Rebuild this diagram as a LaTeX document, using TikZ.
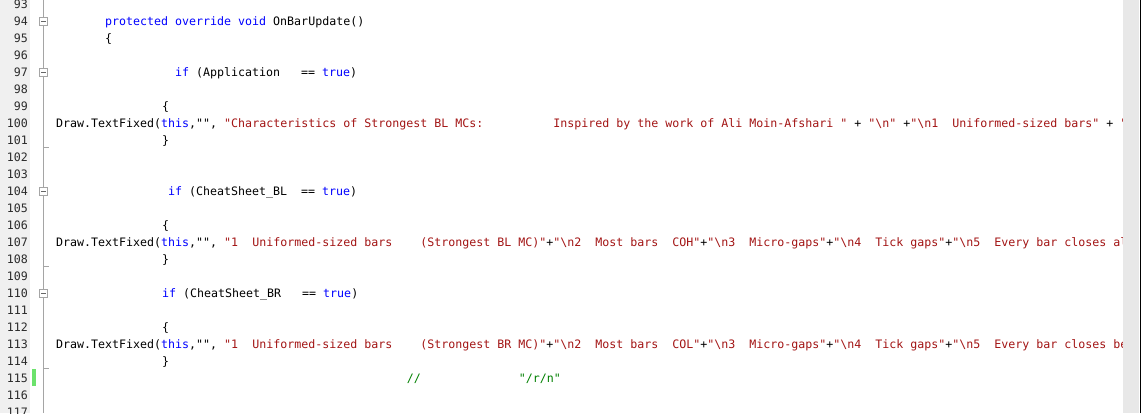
\documentclass[tikz,border=0pt]{standalone}
\usepackage{fontspec}
\setmonofont{DejaVu Sans Mono}
\definecolor{kwc}{HTML}{0000FF}
\definecolor{stc}{HTML}{A31515}
\definecolor{cmc}{HTML}{008000}
\definecolor{gutc}{HTML}{F0F0F0}
\definecolor{lnumc}{HTML}{2B2B2B}
\definecolor{foldc}{HTML}{A5A5A5}
\definecolor{chgc}{HTML}{6CE26C}
\definecolor{sbarc}{HTML}{E8E8E8}
\newcommand\kw[1]{\textcolor{kwc}{#1}}
\newcommand\st[1]{\textcolor{stc}{#1}}
\newcommand\bs{\textbackslash}
\begin{document}
\begin{tikzpicture}[x=1pt,y=-1pt,
  codefont/.style={font=\ttfamily\fontsize{11.63}{17}\selectfont\frenchspacing},
  code/.style={codefont,anchor=base west,inner sep=0pt,text=black},
  lno/.style={codefont,anchor=base east,inner sep=0pt,text=lnumc},
  foldbox/.style={draw=foldc,fill=white,minimum size=8pt,inner sep=0pt,line width=1pt},
  foldline/.style={draw=foldc,line width=1pt}]
\useasboundingbox (0,0) rectangle (1144,413);
\fill[white] (0,0) rectangle (1144,413);
% gutter
\fill[gutc] (0,0) rectangle (30,413);
\foreach \n in {93,...,117} \node[lno] (ln\n) at (28,{8.3+(\n-93)*17}) {\n};
% change marker
\fill[chgc] (32,369) rectangle (36,386);
% fold line
\coordinate (ftop) at (43.5,0);
\coordinate (fbot) at (43.5,413);
\draw[foldline] (ftop) -- (fbot);
\foreach \n/\y in {94/21.3,97/72.3,104/191.3,110/293.3}{
  \node[foldbox] (fb\n) at (43.5,\y) {};
  \draw[line width=1pt,draw=black!60] ([xshift=-2.5pt]fb\n.center) -- ([xshift=2.5pt]fb\n.center);
}
\foreach \n/\y in {101/147.3,108/266.3,114/368.3}{
  \coordinate (te\n) at (43.5,\y);
  \coordinate (tf\n) at (49,\y);
  \draw[foldline] (te\n) -- (tf\n);
}
% code
\begin{scope}
\clip (0,0) rectangle (1123,413);
\node[code] (c94) at (105,25.3) {\kw{protected override void} OnBarUpdate()};
\node[code] (c95) at (105,42.3) {\{};
\node[code] (c97) at (175,76.3) {\kw{if} (Application~~~== \kw{true})};
\node[code] (c99) at (162,110.3) {\{};
\node[code] (c100) at (56,127.3) {Draw.TextFixed(\kw{this},"", \st{"Characteristics of Strongest BL MCs:~~~~~~~~~~Inspired by the work of Ali Moin-Afshari "} + \st{"\bs n"} +\st{"\bs n1~~Uniformed-sized bars"} + \st{"}};
\node[code] (c101) at (162,144.3) {\}};
\node[code] (c104) at (168,195.3) {\kw{if} (CheatSheet\_BL~~== \kw{true})};
\node[code] (c106) at (162,229.3) {\{};
\node[code] (c107) at (56,246.3) {Draw.TextFixed(\kw{this},"", \st{"1~~Uniformed-sized bars~~~~(Strongest BL MC)"}+\st{"\bs n2~~Most bars~~COH"}+\st{"\bs n3~~Micro-gaps"}+\st{"\bs n4~~Tick gaps"}+\st{"\bs n5~~Every bar closes al}};
\node[code] (c108) at (162,263.3) {\}};
\node[code] (c110) at (162,297.3) {\kw{if} (CheatSheet\_BR~~~== \kw{true})};
\node[code] (c112) at (162,331.3) {\{};
\node[code] (c113) at (56,348.3) {Draw.TextFixed(\kw{this},"", \st{"1~~Uniformed-sized bars~~~~(Strongest BR MC)"}+\st{"\bs n2~~Most bars~~COL"}+\st{"\bs n3~~Micro-gaps"}+\st{"\bs n4~~Tick gaps"}+\st{"\bs n5~~Every bar closes be}};
\node[code] (c114) at (162,365.3) {\}};
\node[code,text=cmc] (c115) at (406.7,382.3) {//~~~~~~~~~~~~~~"/r/n"};
\end{scope}
% scrollbar
\fill[sbarc] (1123,0) rectangle (1139,413);
\draw[black,line width=1pt] (1140.5,0) -- (1140.5,413);
\end{tikzpicture}
\end{document}
